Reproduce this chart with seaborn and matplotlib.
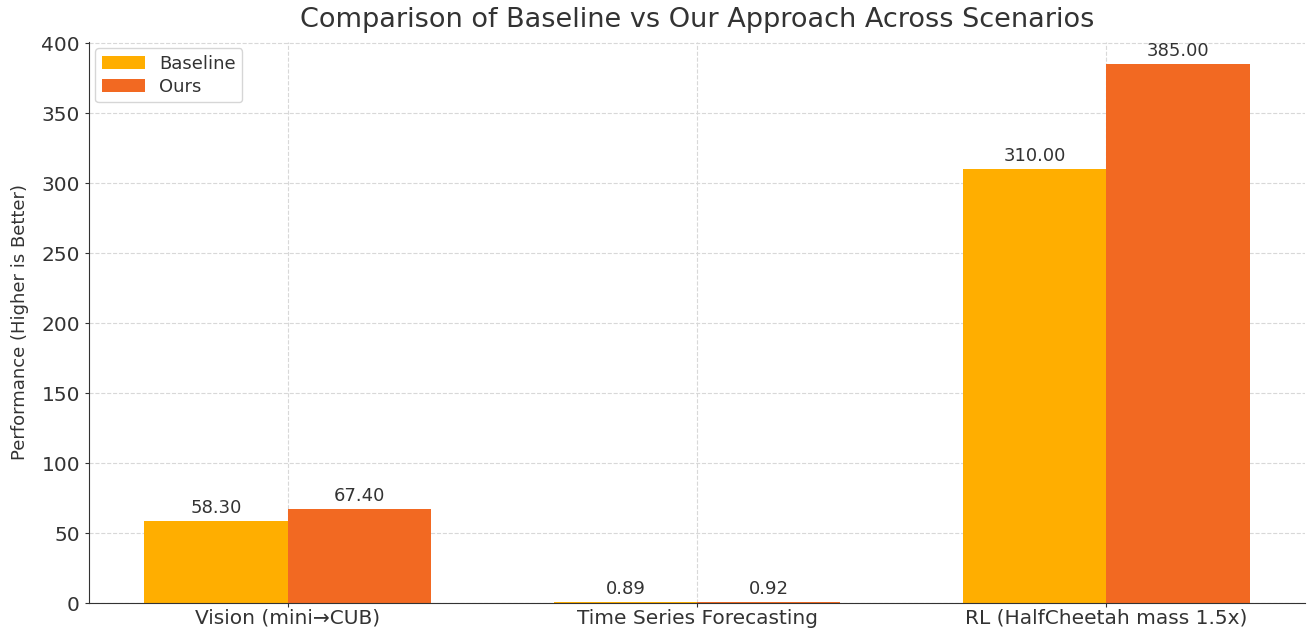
import pandas as pd
import seaborn as sns
import matplotlib.pyplot as plt

scenarios = ["Vision (mini\u2192CUB)", "Time Series Forecasting", "RL (HalfCheetah mass 1.5x)"]
baseline = [58.30, 0.89, 310.00]
ours = [67.40, 0.92, 385.00]
methods = ["Baseline", "Ours"]
colors = ["#FFAE00", "#F26922"]

df = pd.DataFrame({
    "Scenario": scenarios * 2,
    "Method": [methods[0]] * 3 + [methods[1]] * 3,
    "Value": baseline + ours,
})

sns.set_style("white")
plt.rcParams["font.family"] = ["DejaVu Sans"]
plt.rcParams["text.color"] = "#333333"

fig = plt.figure(figsize=(13.09, 6.29), dpi=100)
ax = fig.add_axes([0.068, 0.0413, 0.929, 0.892])
sns.barplot(data=df, x="Scenario", y="Value", hue="Method", palette=colors,
            width=0.7, gap=0, ax=ax, saturation=1, errorbar=None, linewidth=0)

# value labels on top of each bar
for c in ax.containers:
    ax.bar_label(c, fmt="%.2f", padding=3, fontsize=13, color="#333333")

ax.set_ylim(0, 401)
ax.set_xlim(-0.485, 2.485)
ax.grid(True, linestyle="--", color="#d8d8d8", linewidth=0.8)
ax.set_axisbelow(True)
ax.set_xlabel("")
ax.set_ylabel("Performance (Higher is Better)", fontsize=13, color="#333333", labelpad=9)
ax.set_title("Comparison of Baseline vs Our Approach Across Scenarios", fontsize=19.5, color="#333333", pad=11)
ax.tick_params(axis="both", labelsize=14.5, colors="#333333", length=3, left=True, bottom=True)
ax.tick_params(axis="x", pad=1)
for s in ["top", "right"]:
    ax.spines[s].set_visible(False)
for s in ["left", "bottom"]:
    ax.spines[s].set_color("#333333")
ax.legend(title=None, loc="upper left", fontsize=13, frameon=True,
          borderaxespad=0.35, labelspacing=0.3, handlelength=2.4, borderpad=0.35)

plt.savefig("out.png", dpi=100)
plt.close()
